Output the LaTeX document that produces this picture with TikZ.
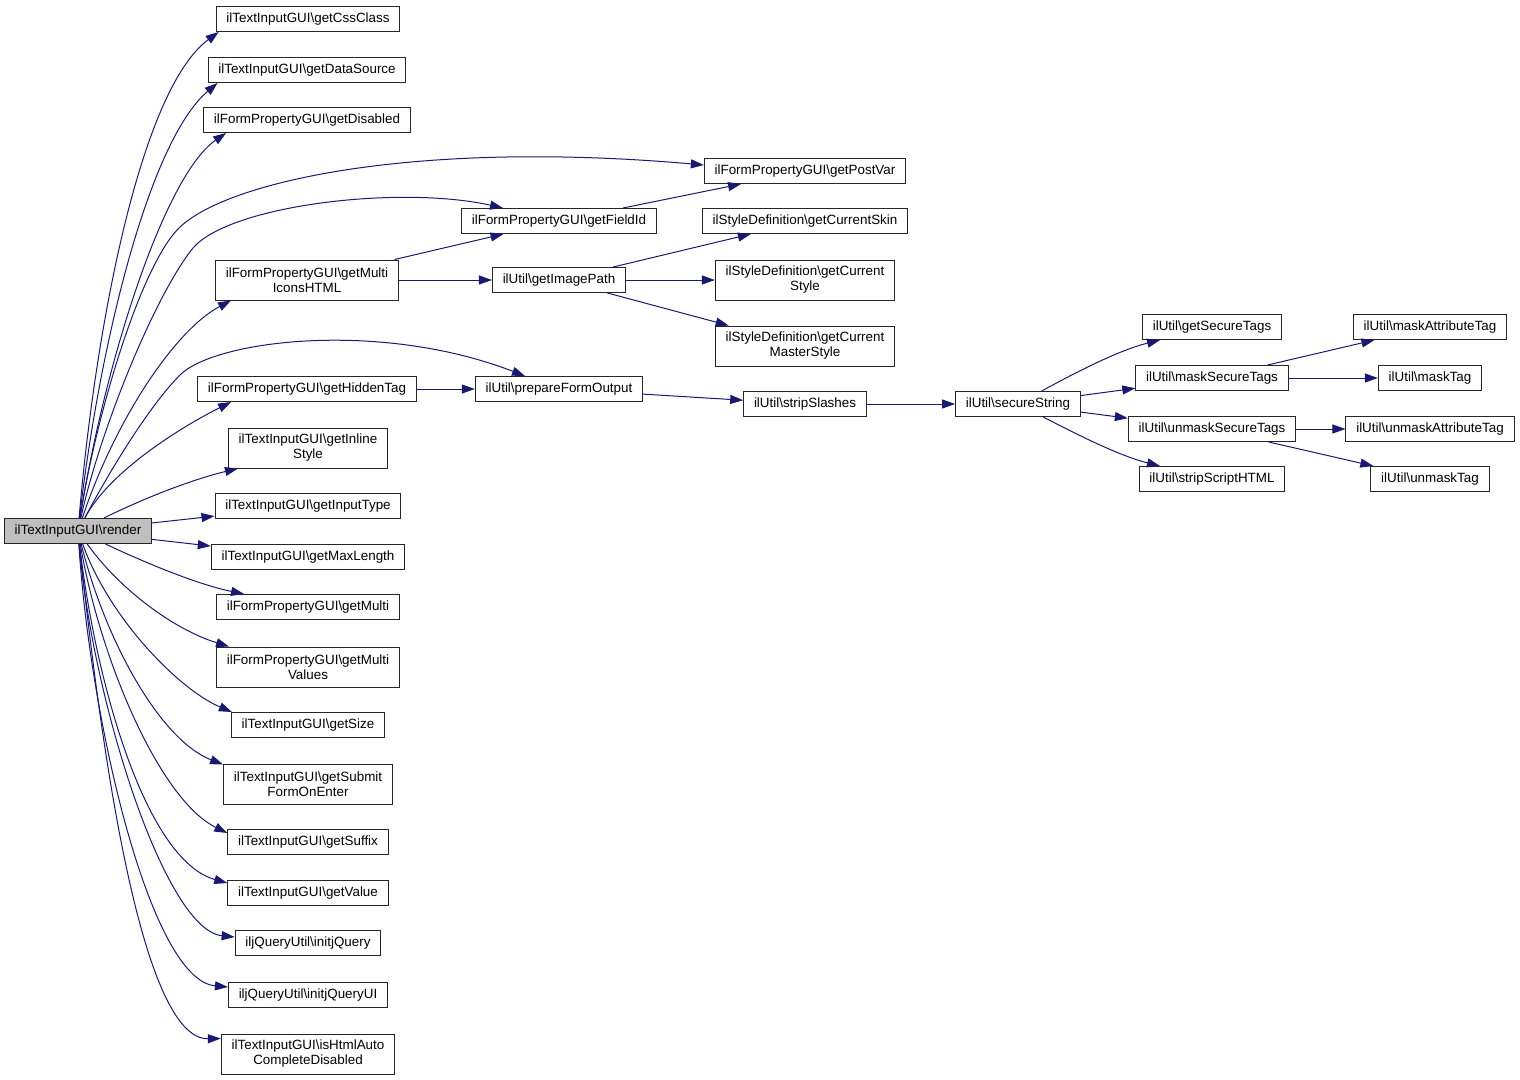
\documentclass[tikz,border=0pt]{standalone}
\usepackage{fontspec}
\setmainfont{Liberation Sans}
\usetikzlibrary{arrows.meta}
\newcommand{\bsl}{\textbackslash}
\definecolor{callblue}{HTML}{191970}
\definecolor{rootgray}{HTML}{BFBFBF}
\begin{document}
\begin{tikzpicture}[x=1pt, y=-1pt,
    main/.style = {draw=black!85, line width=1pt, inner xsep=10.3pt, inner ysep=2pt,
                   minimum height=25pt, align=center,
                   font=\fontsize{13.4}{15}\selectfont},
    two/.style = {main, minimum height=40pt},
    root/.style = {main, fill=rootgray},
    call/.style = {draw=callblue, line width=1pt,
                   -{Triangle[length=13pt, width=9pt]}}]
        \useasboundingbox (0,0) rectangle (1520,1079);
        % caller
        \node[root] (render) at (78,531) {ilTextInputGUI\bsl render};
        % first column
        \node[main] (cssclass) at (308,19) {ilTextInputGUI\bsl getCssClass};
        \node[main] (datasource) at (307,70) {ilTextInputGUI\bsl getDataSource};
        \node[main] (disabled) at (307,120) {ilFormPropertyGUI\bsl getDisabled};
        \node[two] (multiicons) at (307,280) {ilFormPropertyGUI\bsl getMulti\\IconsHTML};
        \node[main] (hiddentag) at (307,389) {ilFormPropertyGUI\bsl getHiddenTag};
        \node[two] (inline) at (308,448) {ilTextInputGUI\bsl getInline\\Style};
        \node[main] (inputtype) at (308,506) {ilTextInputGUI\bsl getInputType};
        \node[main] (maxlength) at (308,557) {ilTextInputGUI\bsl getMaxLength};
        \node[main] (multi) at (308,607) {ilFormPropertyGUI\bsl getMulti};
        \node[two] (multivalues) at (308,667) {ilFormPropertyGUI\bsl getMulti\\Values};
        \node[main] (size) at (308,725) {ilTextInputGUI\bsl getSize};
        \node[two] (submit) at (308,784) {ilTextInputGUI\bsl getSubmit\\FormOnEnter};
        \node[main] (suffix) at (308,842) {ilTextInputGUI\bsl getSuffix};
        \node[main] (value) at (308,893) {ilTextInputGUI\bsl getValue};
        \node[main] (jquery) at (308,943) {iljQueryUtil\bsl initjQuery};
        \node[main] (jqueryui) at (308,995) {iljQueryUtil\bsl initjQueryUI};
        \node[two] (autocomplete) at (308,1054) {ilTextInputGUI\bsl isHtmlAuto\\CompleteDisabled};
        % second column
        \node[main] (fieldid) at (559,221) {ilFormPropertyGUI\bsl getFieldId};
        \node[main] (imagepath) at (559,280) {ilUtil\bsl getImagePath};
        \node[main] (prepare) at (559,389) {ilUtil\bsl prepareFormOutput};
        % third column
        \node[main] (postvar) at (805,171) {ilFormPropertyGUI\bsl getPostVar};
        \node[main] (skin) at (805,221) {ilStyleDefinition\bsl getCurrentSkin};
        \node[two] (curstyle) at (805,280) {ilStyleDefinition\bsl getCurrent\\Style};
        \node[two] (masterstyle) at (805,346) {ilStyleDefinition\bsl getCurrent\\MasterStyle};
        \node[main] (strip) at (805,404) {ilUtil\bsl stripSlashes};
        % right part
        \node[main] (secure) at (1018,404) {ilUtil\bsl secureString};
        \node[main] (securetags) at (1212,327) {ilUtil\bsl getSecureTags};
        \node[main] (masksecure) at (1212,378) {ilUtil\bsl maskSecureTags};
        \node[main] (unmasksecure) at (1212,429) {ilUtil\bsl unmaskSecureTags};
        \node[main] (stripscript) at (1212,479) {ilUtil\bsl stripScriptHTML};
        \node[main] (maskattr) at (1430,327) {ilUtil\bsl maskAttributeTag};
        \node[main] (masktag) at (1430,378) {ilUtil\bsl maskTag};
        \node[main] (unmaskattr) at (1430,429) {ilUtil\bsl unmaskAttributeTag};
        \node[main] (unmasktag) at (1430,479) {ilUtil\bsl unmaskTag};
        %
        % calls from render, upwards
        \draw[call] (render) .. controls (95,330) and (140,90) .. ([xshift=3pt]cssclass.south west);
        \draw[call] (render) .. controls (100,340) and (150,140) .. ([xshift=10pt]datasource.south west);
        \draw[call] (render) .. controls (105,360) and (165,175) .. ([xshift=23pt]disabled.south west);
        \draw[call] (render) .. controls (95,420) and (140,265) .. (180,227)
            .. controls (230,180) and (420,140) .. ([yshift=6pt]postvar.west);
        \draw[call] (render) .. controls (100,430) and (155,295) .. (193,248)
            .. controls (230,205) and (400,185) .. ([xshift=-56pt]fieldid.north);
        \draw[call] (render) .. controls (115,420) and (175,330) .. ([xshift=16pt]multiicons.south west);
        \draw[call] (render) .. controls (110,470) and (150,405) .. (180,375)
            .. controls (215,340) and (380,320) .. ([xshift=-34pt]prepare.north);
        \draw[call] (render) .. controls (110,470) and (185,425) .. ([xshift=34pt]hiddentag.south west);
        \draw[call] (render) .. controls (140,500) and (190,480) .. ([xshift=10pt]inline.south west);
        \draw[call] (render) -- (inputtype);
        \draw[call] (render) -- (maxlength);
        % calls from render, downwards
        \draw[call] (render) .. controls (150,565) and (200,585) .. ([xshift=28pt]multi.north west);
        \draw[call] (render) .. controls (120,590) and (175,630) .. ([xshift=13pt]multivalues.north west);
        \draw[call] (render) .. controls (110,620) and (180,690) .. ([xshift=1pt]size.north west);
        \draw[call] (render) .. controls (105,640) and (160,740) .. ([yshift=-1pt]submit.north west);
        \draw[call] (render) .. controls (100,660) and (160,800) .. ([yshift=-4pt]suffix.north west);
        \draw[call] (render) .. controls (95,680) and (145,860) .. ([yshift=-3pt]value.north west);
        \draw[call] (render) .. controls (92,700) and (165,930) .. ([yshift=-7pt]jquery.north west);
        \draw[call] (render) .. controls (90,720) and (150,980) .. ([yshift=-5pt]jqueryui.north west);
        \draw[call] (render) .. controls (100,740) and (140,1040) .. ([yshift=-5pt]autocomplete.north west);
        % the other calls
        \draw[call] (fieldid) -- (postvar);
        \draw[call] (multiicons) -- (fieldid);
        \draw[call] (multiicons) -- (imagepath);
        \draw[call] (imagepath) -- (skin);
        \draw[call] (imagepath) -- (curstyle);
        \draw[call] (imagepath) -- (masterstyle);
        \draw[call] (hiddentag) -- (prepare);
        \draw[call] (prepare) -- (strip);
        \draw[call] (strip) -- (secure);
        \draw[call] (secure) .. controls (1080,370) and (1120,350) .. (securetags);
        \draw[call] (secure) -- (masksecure);
        \draw[call] (secure) -- (unmasksecure);
        \draw[call] (secure) .. controls (1080,436) and (1120,456) .. (stripscript);
        \draw[call] (masksecure) -- (maskattr);
        \draw[call] (masksecure) -- (masktag);
        \draw[call] (unmasksecure) -- (unmaskattr);
        \draw[call] (unmasksecure) -- (unmasktag);
      \end{tikzpicture}
\end{document}
